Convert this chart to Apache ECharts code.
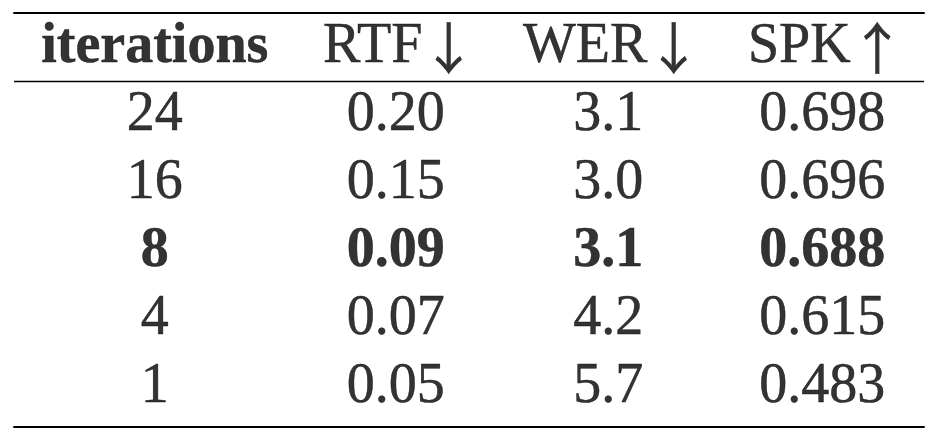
<!DOCTYPE html>
<html>
<head>
<meta charset="utf-8">
<script src="https://cdn.jsdelivr.net/npm/echarts@6/dist/echarts.min.js"></script>
<style>
  html, body { margin: 0; padding: 0; background: #ffffff; }
  #chart { width: 936px; height: 438px; }
</style>
</head>
<body>
<div id="chart"></div>
<script>
// ---- table data ----
const headers = ['iterations', 'RTF', 'WER', 'SPK'];
const arrows = ['', '\u2193', '\u2193', '\u2191'];   // lower/higher is better
const iterations = ['24', '16', '8', '4', '1'];
const rtf = ['0.20', '0.15', '0.09', '0.07', '0.05'];
const wer = ['3.1', '3.0', '3.1', '4.2', '5.7'];
const spk = ['0.698', '0.696', '0.688', '0.615', '0.483'];
const boldRows = [2];          // row "8" is set in bold
const boldHeaders = [0];       // "iterations" header is bold

// ---- style ----
const FONT = 'Liberation Serif';
const ARROW_FONT = 'Noto Sans CJK JP';
const SIZE = 56;
const ARROW_SIZE = 56;
const ARROW_BOX = Math.round(ARROW_SIZE * 0.7);   // trims the glyph's right bearing
const ARROW_GAP = 7;
const W = 936;
const gridLeft = 14, gridRight = 12, gridTop = 13, gridBottom = 11;

const columns = [iterations, rtf, wer, spk];

// measure text like a LaTeX tabular: column width = widest entry, equal padding
const ctx = document.createElement('canvas').getContext('2d');
function textW(t, bold) {
  ctx.font = (bold ? 'bold ' : '') + SIZE + 'px "' + FONT + '"';
  return ctx.measureText(t).width;
}
function headerW(c) {
  let w = textW(headers[c], boldHeaders.includes(c));
  if (arrows[c]) w += ARROW_BOX + ARROW_GAP;
  return w;
}
const colW = columns.map((col, c) => {
  let m = headerW(c);
  col.forEach((t, r) => { m = Math.max(m, textW(t, boldRows.includes(r))); });
  return m;
});
const gridW = W - gridLeft - gridRight;
const pad = (gridW - colW.reduce((a, b) => a + b, 0)) / (2 * columns.length);
const colCenter = [];
let acc = 0;
colW.forEach(w => { colCenter.push(acc + pad + w / 2); acc += w + 2 * pad; });

const series = columns.map((col, c) => {
  const data = [{
    value: [colCenter[c], 0, headers[c] + (arrows[c] ? '{a|' + arrows[c] + '}' : '')],
    label: { fontWeight: boldHeaders.includes(c) ? 'bold' : 'normal' }
  }];
  col.forEach((t, r) => {
    data.push({
      value: [colCenter[c], r + 1, t],
      label: { fontWeight: boldRows.includes(r) ? 'bold' : 'normal' }
    });
  });
  const s = {
    type: 'scatter',
    symbolSize: 1,
    itemStyle: { color: 'rgba(0,0,0,0)' },
    silent: true,
    data: data,
    label: {
      show: true,
      position: 'inside',
      formatter: p => p.value[2],
      fontFamily: FONT,
      fontSize: SIZE,
      color: '#000',
      textBorderColor: '#000',
      textBorderWidth: 0.5,
      align: 'center',
      verticalAlign: 'middle',
      rich: {
        a: {
          fontFamily: ARROW_FONT, fontSize: ARROW_SIZE, color: '#000',
          fontWeight: 'normal', verticalAlign: 'middle',
          width: ARROW_BOX, align: 'left',
          padding: [0, 0, 0, ARROW_GAP],
          textBorderColor: '#000', textBorderWidth: 0.3
        }
      }
    }
  };
  if (c === 0) {
    s.markLine = {
      silent: true,
      symbol: 'none',
      label: { show: false },
      lineStyle: { color: '#000', width: 1.4, type: 'solid' },
      data: [{ yAxis: 0.5 }]
    };
  }
  return s;
});

const hiddenX = (pos) => ({
  type: 'value', position: pos, min: 0, max: gridW,
  axisLine: { show: true, onZero: false, lineStyle: { color: '#000', width: 2 } },
  axisTick: { show: false }, axisLabel: { show: false }, splitLine: { show: false }
});

const chart = echarts.init(document.getElementById('chart'), null, { renderer: 'canvas' });
chart.setOption({
  backgroundColor: '#ffffff',
  animation: false,
  grid: { left: gridLeft, right: gridRight, top: gridTop, bottom: gridBottom },
  xAxis: [hiddenX('bottom'), hiddenX('top')],
  yAxis: {
    type: 'value', inverse: true, min: -0.507, max: 5.581,
    axisLine: { show: false }, axisTick: { show: false },
    axisLabel: { show: false }, splitLine: { show: false }
  },
  series: series
});
</script>
</body>
</html>
